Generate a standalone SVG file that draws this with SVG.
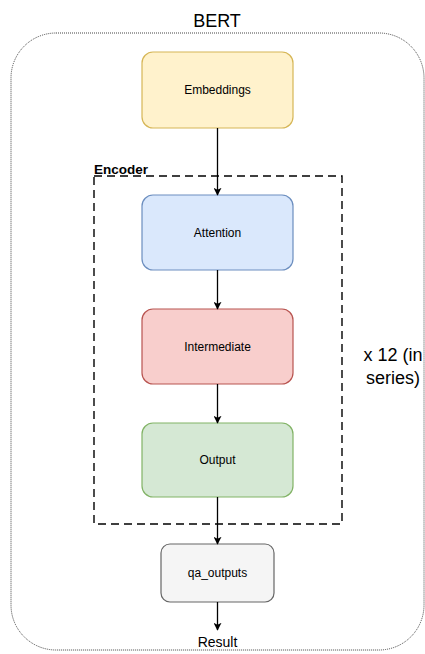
<svg xmlns="http://www.w3.org/2000/svg" width="425" height="654" viewBox="0 0 425 654">
<defs>
<style>
text{font-family:"Liberation Sans",Arial,sans-serif;fill:#000}
.lbl{font-size:12px;text-anchor:middle}
.big{font-size:18px;text-anchor:middle}
.node rect{stroke-width:1.2}
.edge{stroke:#000;stroke-width:1.3;fill:none;marker-end:url(#arr)}
</style>
<marker id="arr" viewBox="0 0 10 10" refX="9" refY="5" markerWidth="8" markerHeight="8" orient="auto" markerUnits="userSpaceOnUse">
<path d="M0,0 L10,5 L0,10 L2.5,5 z" fill="#000"/>
</marker>
</defs>
<rect width="425" height="654" fill="#fff"/>
<g id="bert">
<rect x="11" y="33" width="413" height="617" rx="45" fill="none" stroke="#444" stroke-width="1" stroke-dasharray="1,1"/>
<text x="217" y="27" class="big">BERT</text>
</g>
<g id="encoder">
<rect x="94" y="176" width="248" height="348" fill="none" stroke="#000" stroke-width="1.4" stroke-dasharray="8,5"/>
<text x="94" y="174" font-size="13.5" font-weight="bold">Encoder</text>
</g>
<g id="repeat">
<text x="393" y="361" class="big">x 12 (in</text>
<text x="393" y="384" class="big">series)</text>
</g>
<g id="embeddings" class="node">
<rect x="142" y="52" width="151" height="76" rx="11" fill="#fff2cc" stroke="#d6b656"/>
<text x="217.5" y="94" class="lbl">Embeddings</text>
</g>
<g id="attention" class="node">
<rect x="142" y="195" width="151" height="75" rx="11" fill="#dae8fc" stroke="#6c8ebf"/>
<text x="217.5" y="237" class="lbl">Attention</text>
</g>
<g id="intermediate" class="node">
<rect x="142" y="309" width="151" height="75" rx="11" fill="#f8cecc" stroke="#b85450"/>
<text x="217.5" y="351" class="lbl">Intermediate</text>
</g>
<g id="output" class="node">
<rect x="142" y="423" width="151" height="74" rx="11" fill="#d5e8d4" stroke="#82b366"/>
<text x="217.5" y="464" class="lbl">Output</text>
</g>
<g id="qa_outputs" class="node">
<rect x="161" y="544" width="113" height="58" rx="9" fill="#f5f5f5" stroke="#666666"/>
<text x="217.5" y="577" class="lbl">qa_outputs</text>
</g>
<g id="result">
<text x="217.5" y="647" font-size="14" text-anchor="middle">Result</text>
</g>
<g id="connectors">
<line class="edge" x1="217.5" y1="128" x2="217.5" y2="195"/>
<line class="edge" x1="217.5" y1="270" x2="217.5" y2="309"/>
<line class="edge" x1="217.5" y1="384" x2="217.5" y2="423"/>
<line class="edge" x1="217.5" y1="497" x2="217.5" y2="544"/>
<line class="edge" x1="217.5" y1="602" x2="217.5" y2="630"/>
</g>
</svg>
